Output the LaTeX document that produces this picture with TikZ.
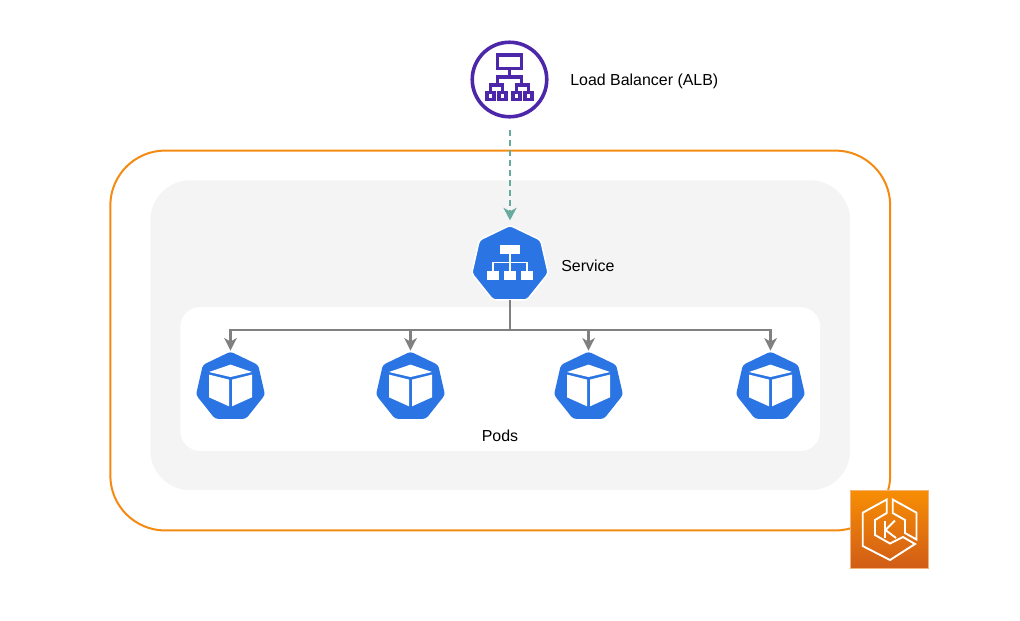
\documentclass[tikz,border=0pt]{standalone}
\usepackage{fontspec}
\setmainfont{Liberation Sans}
\usepackage{xcolor}
\usetikzlibrary{arrows.meta}
\usetikzlibrary{shapes.geometric}

\definecolor{clusterorange}{HTML}{F58A12}
\definecolor{nsgray}{HTML}{F4F4F4}
\definecolor{kubeblue}{HTML}{2A74E4}
\definecolor{albpurple}{HTML}{4D27AA}
\definecolor{flowgreen}{HTML}{67AB9F}
\definecolor{flowgray}{HTML}{808080}
\definecolor{ekstop}{HTML}{F78E04}
\definecolor{eksbottom}{HTML}{D05C17}
\definecolor{eksedge}{HTML}{F3B27A}

\tikzset{
  box/.style={rectangle,inner sep=0pt,outer sep=0pt},
  kube/.style={regular polygon,regular polygon sides=7,inner sep=0pt,outer sep=0pt,fill=kubeblue,rounded corners=0.06cm},
  lbltext/.style={inner sep=0pt,font=\fontsize{9.07pt}{11pt}\selectfont},
  flow/.style={draw=flowgray,line width=0.046cm,-{Stealth[length=0.25cm,width=0.25cm,inset=0.07cm]}},
  albline/.style={draw=albpurple,line width=0.064cm},
  eksline/.style={draw=white,line width=0.038cm,line join=miter},
  podicon/.pic={
    \fill[white] (0,-22.4) -- (-21.5,-15) -- (0,-10) -- (21.5,-15) -- cycle;
    \fill[white] (-21.5,-12.4) -- (-1.5,-7.4) -- (-1.5,19.3) -- (-21.5,10.3) -- cycle;
    \fill[white] (21.5,-12.4) -- (1.5,-7.4) -- (1.5,19.3) -- (21.5,10.3) -- cycle;
  }
}

\begin{document}
\begin{tikzpicture}[x=0.02cm,y=-0.02cm]
\useasboundingbox (0,0) rectangle (1020,620);

\node (cluster) at (500.25,340.5) [box,draw=clusterorange,line width=0.04cm,rounded corners=1.1cm,minimum width=15.6cm,minimum height=7.6cm] {};	% cluster
\node (ns) at (500.25,335.25) [box,fill=nsgray,rounded corners=0.8cm,minimum width=14cm,minimum height=6.2cm] {};	% namespace
\node (podbox) at (500.25,379) [box,fill=white,rounded corners=0.4cm,minimum width=12.8cm,minimum height=2.88cm] {};	% pod area

\node (alb) at (509.5,79.5) [circle,draw=albpurple,line width=0.072cm,inner sep=0pt,minimum size=1.49cm] {};	% load balancer
\draw[albline] (497.5,55) rectangle (521.5,68.5);
\draw[albline] (509.5,68.5) -- (509.5,77);
\draw[albline] (497.5,84) -- (497.5,77) -- (521.5,77) -- (521.5,84);
\draw[albline] (490.5,92) -- (490.5,85) -- (502.5,85) -- (502.5,92);
\draw[albline] (516.5,92) -- (516.5,85) -- (528.5,85) -- (528.5,92);
\foreach \x in {490.5,502.5,516.5,528.5}
  \draw[albline] (\x-3.5,92.5) rectangle (\x+3.5,99.5);
\node (alblabel) at (570,81) [lbltext,anchor=west] {Load Balancer (ALB)};

\node (svc) at (510,264.6) [kube,draw=white,line width=0.03cm,minimum size=1.57cm] {};	% service
\fill[white] (500,245) rectangle (520,253.5);
\draw[white,line width=0.034cm] (510,253) -- (510,271);
\draw[white,line width=0.034cm] (493,271) -- (493,262.5) -- (527,262.5) -- (527,271);
\foreach \x in {493,510,527}
  \fill[white] (\x-6.3,271) rectangle (\x+6.3,279.5);
\node (svclabel) at (561,265.5) [lbltext,anchor=west] {Service};

\node (pod1) at (230.5,387) [kube,minimum size=1.416cm] {};	% pods
\node (pod2) at (410.5,387) [kube,minimum size=1.416cm] {};
\node (pod3) at (588.5,387) [kube,minimum size=1.416cm] {};
\node (pod4) at (770.5,387) [kube,minimum size=1.416cm] {};
\foreach \p in {pod1,pod2,pod3,pod4}
  \pic at (\p) {podicon};
\node (podlabel) at (500,435.5) [lbltext] {Pods};

\coordinate (bus) at (svc.south |- 0,330);
\draw[draw=flowgray,line width=0.046cm] (svc.south) -- (bus);
\foreach \p in {pod1,pod2,pod3,pod4}
  \draw[flow] (bus) -| ([yshift=0.02cm]\p.north);

\draw[draw=flowgreen,line width=0.046cm,dash pattern=on 0.12cm off 0.08cm,shorten <=0.23cm,shorten >=0.1cm,-{Stealth[length=0.25cm,width=0.26cm,inset=0.07cm]}] (svc.north |- alb.south) -- (svc.north);	% traffic

\node (eks) at (889.5,529.5) [box,draw=eksedge,line width=0.02cm,top color=ekstop,bottom color=eksbottom,minimum size=1.56cm] {};	% EKS logo
\draw[eksline] (886.7,499.5) -- (862.7,512.7) -- (862.7,546) -- (890,560) -- (915,544) -- (903,537) -- (890,543.5) -- (875,535) -- (875,520) -- (886.7,513) -- cycle;
\draw[eksline] (892.7,499.5) -- (916.5,512.7) -- (916.5,539.5) -- (905,533) -- (905,520) -- (892.7,513) -- cycle;
\draw[eksline] (885,520.5) -- (885,538);
\draw[eksline] (895,520.5) -- (885.5,530) -- (896,538);

\end{tikzpicture}
\end{document}
